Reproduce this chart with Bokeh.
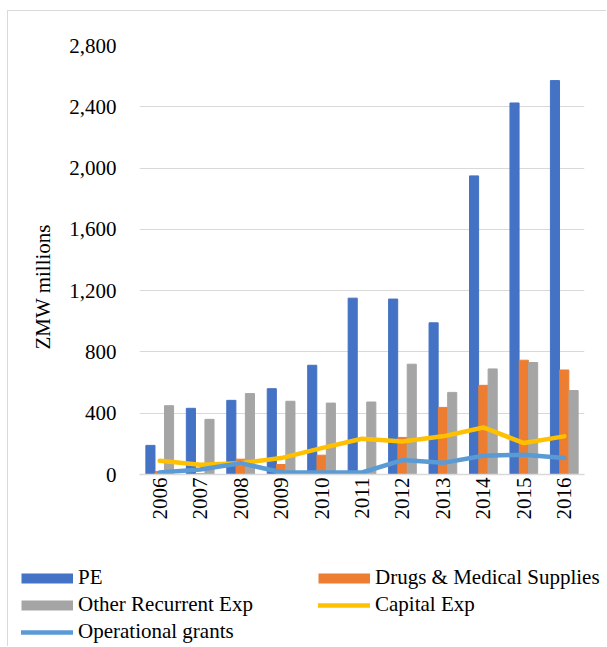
from math import pi
from bokeh.plotting import figure
from bokeh.models import (ColumnDataSource, FactorRange, Range1d, FixedTicker,
                          NumeralTickFormatter, Legend, LegendItem, Title)
from bokeh.transform import dodge
from bokeh.embed import file_html
from bokeh.resources import INLINE

years = ["2006", "2007", "2008", "2009", "2010", "2011", "2012", "2013", "2014", "2015", "2016"]
pe = [190, 432, 484, 560, 713, 1151, 1145, 990, 1949, 2425, 2571]
drugs = [20, 5, 100, 65, 126, 10, 242, 438, 582, 746, 682]
other_recurrent = [449, 360, 528, 478, 466, 473, 720, 536, 689, 731, 548]
capital = [90, 63, 74, 107, 172, 233, 216, 249, 307, 205, 249]
operational = [13, 33, 74, 15, 13, 13, 94, 76, 122, 129, 107]
y_ticks = [0, 400, 800, 1200, 1600, 2000, 2400, 2800]
series_names = ["PE", "Drugs & Medical Supplies", "Other Recurrent Exp",
                "Capital Exp", "Operational grants"]
colors = ["#4472C4", "#ED7D31", "#A5A5A5", "#FFC000", "#5B9BD5"]

src = ColumnDataSource(dict(year=years, pe=pe, drugs=drugs, other=other_recurrent,
                            capital=capital, operational=operational))

FONT = "Liberation Serif"
FS = "21px"
BORDER = "1px solid #d9d9d9"

p = figure(x_range=FactorRange(*years, range_padding=0), y_range=Range1d(0, 2800),
           width=599, height=529, output_backend="svg", toolbar_location=None,
           min_border_left=131, min_border_right=23, min_border_top=34,
           min_border_bottom=66)
p.outline_line_color = None
p.margin = (10, 0, 0, 7)
p.styles = {"border-left": BORDER, "border-top": BORDER}

bw = 0.225
p.vbar(x=dodge("year", -0.23, range=p.x_range), top="pe", width=bw, source=src,
       fill_color=colors[0], line_color=colors[0])
p.vbar(x=dodge("year", 0.0, range=p.x_range), top="drugs", width=bw, source=src,
       fill_color=colors[1], line_color=colors[1])
p.vbar(x=dodge("year", 0.23, range=p.x_range), top="other", width=bw, source=src,
       fill_color=colors[2], line_color=colors[2])
p.line(x="year", y="capital", source=src, line_color=colors[3], line_width=4.5,
       line_cap="round", line_join="round")
p.line(x="year", y="operational", source=src, line_color=colors[4], line_width=4.5,
       line_cap="round", line_join="round")

p.yaxis.ticker = FixedTicker(ticks=y_ticks)
p.yaxis.formatter = NumeralTickFormatter(format="0,0")
p.yaxis.axis_line_color = None
p.yaxis.major_tick_line_color = None
p.yaxis.minor_tick_line_color = None
p.yaxis.major_label_standoff = 17

p.xaxis.axis_line_color = "#d9d9d9"
p.xaxis.axis_line_width = 1.5
p.xaxis.major_tick_line_color = None
p.xaxis.minor_tick_line_color = None
p.xaxis.major_label_orientation = pi / 2
p.xaxis.major_label_standoff = -3

for ax in (p.xaxis, p.yaxis):
    ax.major_label_text_font = FONT
    ax.major_label_text_font_size = FS
    ax.major_label_text_color = "black"

p.xgrid.grid_line_color = None
p.ygrid.grid_line_color = "#d9d9d9"
p.ygrid.grid_line_width = 1.2

ytitle = Title(text="ZMW millions", align="left", offset=125, standoff=24,
               text_font=FONT, text_font_size=FS, text_font_style="normal",
               text_color="black")
p.add_layout(ytitle, "left")

# legend figure (separate root, so its frame is not aligned with the chart's)
lf = figure(width=599, height=107, x_range=Range1d(0, 1), y_range=Range1d(0, 1),
            output_backend="svg", toolbar_location=None, x_axis_type=None,
            y_axis_type=None, min_border=0)
lf.outline_line_color = None
lf.xgrid.grid_line_color = None
lf.ygrid.grid_line_color = None
lf.margin = (0, 0, 0, 7)
lf.styles = {"border-left": BORDER}
dummy = ColumnDataSource(dict(x=[-5], y=[-5]))
leg_renderers = []
for i, c in enumerate(colors):
    if i < 3:
        # bar swatch: a thick flat-ended stroke fills the whole glyph width
        r = lf.line(x="x", y="y", source=dummy, line_color=c, line_width=10,
                    line_cap="butt")
    else:
        r = lf.line(x="x", y="y", source=dummy, line_color=c, line_width=4.5,
                    line_cap="round")
    leg_renderers.append(r)

legend = Legend(items=[LegendItem(label=n, renderers=[r])
                       for n, r in zip(series_names, leg_renderers)],
                location=(13, 2), orientation="horizontal", ncols=2)
legend.padding = 0
legend.margin = 0
legend.spacing = 2
legend.glyph_width = 52
legend.glyph_height = 12
legend.label_height = 20
legend.label_width = 238
legend.label_standoff = 5
legend.label_text_font = FONT
legend.label_text_font_size = FS
legend.label_text_color = "black"
legend.border_line_color = None
legend.background_fill_alpha = 0
lf.add_layout(legend, "center")

open("out.html", "w").write(file_html([p, lf], INLINE))
